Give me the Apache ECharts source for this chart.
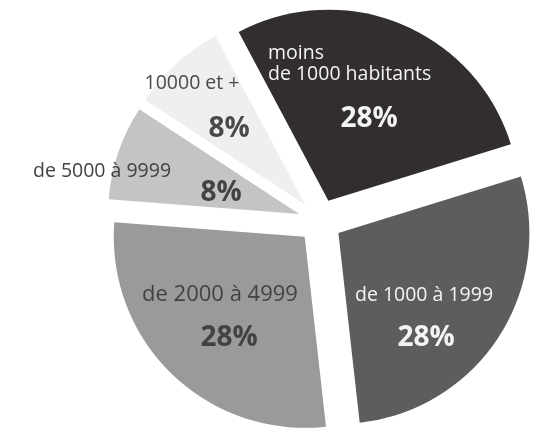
<!DOCTYPE html>
<html>
<head>
<meta charset="utf-8">
<script src="https://cdn.jsdelivr.net/npm/echarts@6/dist/echarts.min.js"></script>
<style>
  html, body { margin: 0; padding: 0; background: #fff; }
  #chart { width: 543px; height: 430px; }
</style>
</head>
<body>
<div id="chart"></div>
<script>
// tranches de population, dans l'ordre horaire
const categories = ['moins\nde 1000 habitants', 'de 1000 à 1999', 'de 2000 à 4999', 'de 5000 à 9999', '10000 et +']
const shares = [28, 28, 28, 8, 8]

const sliceColors = ['#312e2d', '#5e5d5c', '#9a9a9a', '#c4c4c4', '#efefef']
const textColors = ['#f4f4f4', '#f4f4f4', '#424242', '#424242', '#4a4a4a']
const nameSizes = [19.5, 19.5, 22, 19.5, 19.5]

// label anchors (text centre, px)
const namePos = [[268, 64], [424, 295], [220, 295], [102, 171], [192, 83]]
const pctPos = [[369, 119], [426, 338], [229, 338], [221, 193], [229, 129]]

const chart = echarts.init(document.getElementById('chart'))

const base = {
  type: 'pie',
  center: [320, 221],
  radius: 191,
  startAngle: 118,
  avoidLabelOverlap: false,
  percentPrecision: 0,
  animation: false,
  emphasis: { disabled: true },
  labelLine: { show: false }
}

// transparent copy of the pie that only carries labels
function labelSeries(name, label, pos, alignFirst) {
  return Object.assign({}, base, {
    name: name,
    silent: true,
    z: 3,
    data: categories.map((c, i) => ({
      name: c,
      value: shares[i],
      itemStyle: { color: 'rgba(0,0,0,0)' },
      label: { color: textColors[i] }
    })),
    label: Object.assign({ show: true, position: 'inside', fontFamily: 'Open Sans' }, label),
    labelLayout: p => ({
      x: pos[p.dataIndex][0],
      y: pos[p.dataIndex][1],
      align: p.dataIndex === 0 ? alignFirst : 'center',
      verticalAlign: 'middle'
    })
  })
}

const names = labelSeries('noms', { formatter: '{b}', lineHeight: 21 }, namePos, 'left')
names.data.forEach((d, i) => { d.label.fontSize = nameSizes[i] })

const option = {
  textStyle: { fontFamily: 'Open Sans' },
  series: [
    Object.assign({}, base, {
      name: 'tranches',
      selectedMode: 'multiple',
      selectedOffset: 22,
      label: { show: false },
      data: categories.map((c, i) => ({
        name: c,
        value: shares[i],
        selected: true,
        itemStyle: { color: sliceColors[i] }
      }))
    }),
    names,
    labelSeries('pourcentages', { formatter: '{d}%', fontWeight: 'bold', fontSize: 28 }, pctPos, 'center')
  ]
}

chart.setOption(option)
</script>
</body>
</html>
